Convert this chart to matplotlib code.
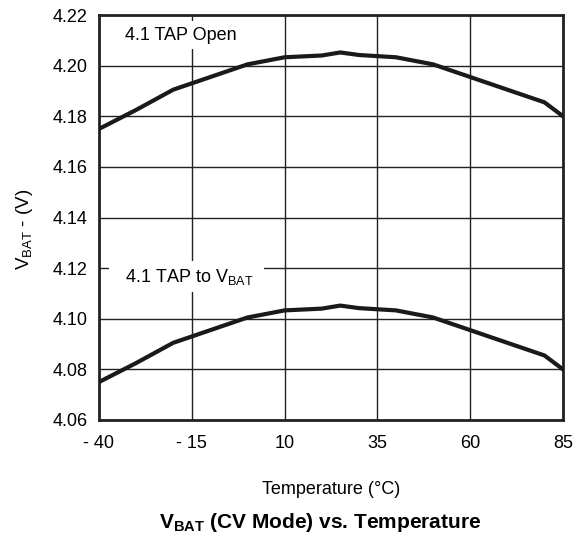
import numpy as np
import matplotlib.pyplot as plt

plt.rcParams['font.family'] = ['Liberation Sans', 'DejaVu Sans']

# Temperature (°C) and charge voltage (V)
temp = [-40, -30, -20, 0, 10, 20, 25, 30, 40, 50, 80, 85]
v_open = [4.175, 4.1825, 4.1905, 4.2005, 4.2033, 4.2040, 4.2052, 4.2042, 4.2033, 4.2005, 4.1855, 4.180]
v_vbat = [4.075, 4.0825, 4.0905, 4.1005, 4.1033, 4.1040, 4.1052, 4.1042, 4.1033, 4.1005, 4.0855, 4.080]

x_ticks = [-40, -15, 10, 35, 60, 85]
x_labels = ["- 40", "- 15", "10", "35", "60", "85"]
y_ticks = [4.06, 4.08, 4.10, 4.12, 4.14, 4.16, 4.18, 4.20, 4.22]

fig = plt.figure(figsize=(5.85, 5.38), dpi=100)
ax = fig.add_axes([99 / 585, 1 - 420 / 538, 464 / 585, 405 / 538])

ax.plot(temp, v_open, color="#1a1a1a", lw=3, solid_joinstyle="miter", zorder=3)
ax.plot(temp, v_vbat, color="#1a1a1a", lw=3, solid_joinstyle="miter", zorder=3)

ax.set_xlim(-40, 85)
ax.set_ylim(4.06, 4.22)
ax.set_xticks(x_ticks)
ax.set_xticklabels(x_labels)
ax.set_yticks(y_ticks)
ax.set_yticklabels([f"{v:.2f}" for v in y_ticks])
ax.grid(True, color="#222222", lw=1)
ax.set_axisbelow(True)
ax.tick_params(length=0, labelsize=13)
ax.tick_params(axis="x", pad=11)
ax.tick_params(axis="y", pad=8)

for s in ax.spines.values():
    s.set_linewidth(2)
    s.set_color("#222222")

# curve labels, white box hides the grid behind them
box = dict(facecolor="white", edgecolor="none", pad=4)
ax.text(-35.8, 4.2103, "  4.1 TAP Open  ", fontsize=13, va="baseline", ha="left",
        bbox=box, zorder=4)
ax.text(-35.8, 4.1147, r"  4.1 TAP to V$_{\mathregular{BAT}}$  ", fontsize=13, va="baseline", ha="left",
        bbox=box, zorder=4)

ax.set_ylabel(r"V$_{\mathregular{BAT}}$ - (V)", fontsize=13.5)
ax.yaxis.set_label_coords(-0.139, 0.47)
ax.set_xlabel("Temperature (°C)", fontsize=13, labelpad=21)

fig.text(0.547, 1 - 522 / 538, r"V$_{\mathregular{BAT}}$ (CV Mode) vs. Temperature",
         ha="center", va="center", fontsize=15, fontweight="bold")

fig.savefig("out.png", dpi=100)
